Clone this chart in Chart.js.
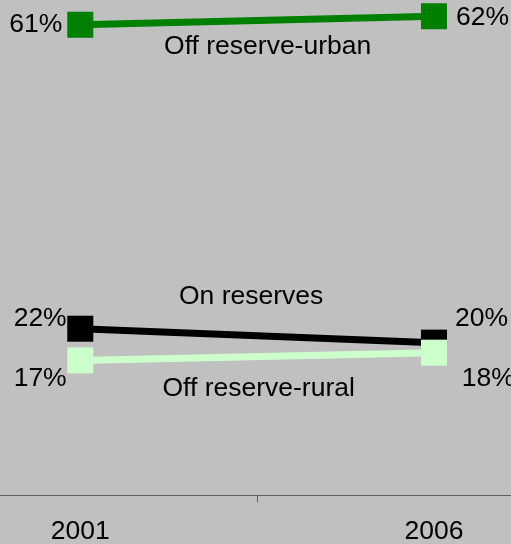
<!DOCTYPE html>
<html>
<head>
<meta charset="utf-8">
<script src="https://cdn.jsdelivr.net/npm/chart.js@4"></script>
<style>
  html, body { margin: 0; padding: 0; background: #c0c0c0; overflow: hidden; }
  canvas { display: block; }
</style>
</head>
<body>
<canvas id="c" width="511" height="544"></canvas>
<script>
// ---- data ----
const years = [2001, 2006];
const xTickLabels = ['2001', '2006'];
const seriesNames = ['Off reserve-urban', 'On reserves', 'Off reserve-rural'];
const urbanValues = [60.8, 61.9];
const reservesValues = [21.5, 19.7];
const ruralValues = [17.4, 18.4];

const FONT = '26.5px "Liberation Sans", Arial, sans-serif';

function pts(vals) { return years.map((y, i) => ({ x: y, y: vals[i] })); }

// label placement styles (offsets from the library-computed point positions)
const labelStyle = [
  { first: { dx: -18, dy: 7, align: 'right' }, last: { dx: 22, dy: 8.7, align: 'left' }, name: { dx: 10.5, dy: 33.6 } },
  { first: { dx: -13.6, dy: -2.3, align: 'right' }, last: { dx: 21, dy: -16.3, align: 'left' }, name: { dx: -6, dy: -32 } },
  { first: { dx: -13.6, dy: 25.5, align: 'right' }, last: { dx: 27.7, dy: 33.7, align: 'left' }, name: { dx: 1.5, dy: 39 } }
];

const labelPlugin = {
  id: 'labels',
  afterDatasetsDraw(chart) {
    const ctx = chart.ctx;
    ctx.save();
    ctx.font = FONT;
    ctx.fillStyle = '#000';
    ctx.textBaseline = 'alphabetic';
    chart.data.datasets.forEach((ds, i) => {
      const meta = chart.getDatasetMeta(i);
      const p0 = meta.data[0], p1 = meta.data[1];
      const st = labelStyle[i];
      const v = ds.data;
      ctx.textAlign = st.first.align;
      ctx.fillText(Math.round(v[0].y) + '%', p0.x + st.first.dx, p0.y + st.first.dy);
      ctx.textAlign = st.last.align;
      ctx.fillText(Math.round(v[1].y) + '%', p1.x + st.last.dx, p1.y + st.last.dy);
      ctx.textAlign = 'center';
      const mx = (p0.x + p1.x) / 2, my = (p0.y + p1.y) / 2;
      ctx.fillText(ds.label, mx + st.name.dx, my + st.name.dy);
    });
    ctx.restore();
  }
};

const bgPlugin = {
  id: 'bg',
  beforeDraw(chart) {
    const ctx = chart.ctx;
    ctx.save();
    ctx.fillStyle = '#c0c0c0';
    ctx.fillRect(0, 0, chart.width, chart.height);
    ctx.restore();
  }
};

function ds(label, vals, color, order) {
  return {
    label, data: pts(vals), order,
    borderColor: color, backgroundColor: color,
    borderWidth: 7,
    pointStyle: 'rect', pointRadius: 18.4, pointBorderWidth: 0,
    pointBackgroundColor: color, clip: false
  };
}

new Chart(document.getElementById('c'), {
  type: 'line',
  data: {
    datasets: [
      ds(seriesNames[0], urbanValues, '#008000', 2),
      ds(seriesNames[1], reservesValues, '#000000', 1),
      ds(seriesNames[2], ruralValues, '#ccffcc', 0)
    ]
  },
  options: {
    responsive: false,
    animation: false,
    layout: { padding: 0, autoPadding: false },
    plugins: { legend: { display: false }, tooltip: { enabled: false } },
    scales: {
      x: {
        type: 'linear',
        min: 1999.865, max: 2007.089,
        afterBuildTicks(scale) {
          scale.ticks = [{ value: years[0] }, { value: (years[0] + years[1]) / 2 }, { value: years[1] }];
        },
        afterFit(scale) { scale.height = 49; },
        ticks: {
          autoSkip: false, maxRotation: 0, padding: 14,
          color: '#000', font: { family: '"Liberation Sans", Arial, sans-serif', size: 26.5 },
          callback(value) {
            const idx = years.indexOf(value);
            return idx >= 0 ? xTickLabels[idx] : '';
          }
        },
        grid: {
          drawOnChartArea: false, drawTicks: true, tickLength: 7, lineWidth: 1,
          tickColor: (c) => (c.tick && years.indexOf(c.tick.value) < 0) ? '#606060' : 'rgba(0,0,0,0)'
        },
        border: { display: true, color: '#606060', width: 1 }
      },
      y: { display: false, min: 0, max: 64 }
    }
  },
  plugins: [bgPlugin, labelPlugin]
});
</script>
</body>
</html>
